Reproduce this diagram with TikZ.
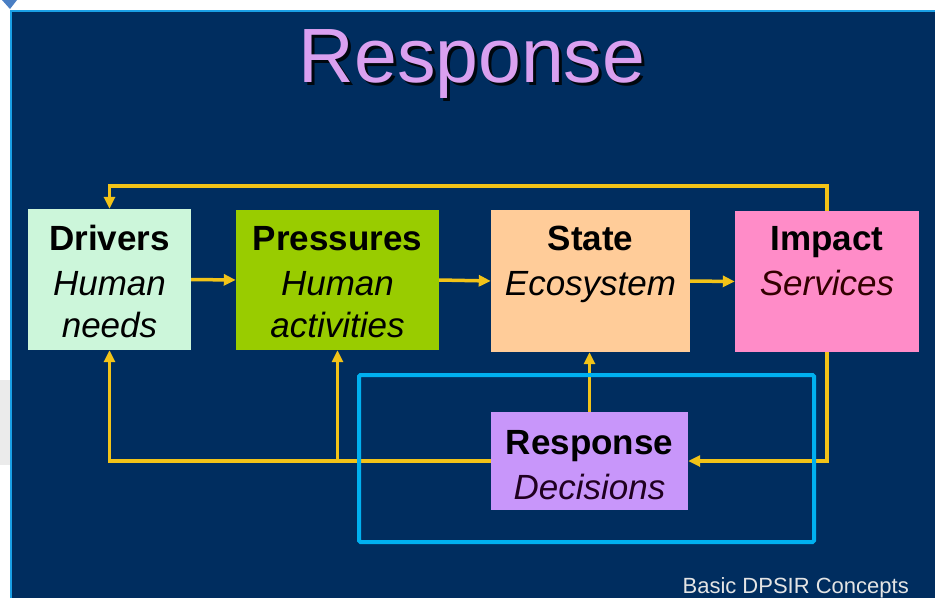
\documentclass[tikz,border=0pt]{standalone}
\usepackage{fontspec}
\setmainfont{Liberation Sans}
\usetikzlibrary{arrows.meta}
\definecolor{navy}{RGB}{0,45,95}
\definecolor{frameblue}{RGB}{26,160,230}
\definecolor{triblue}{RGB}{74,127,196}
\definecolor{mint}{RGB}{204,246,218}
\definecolor{lime}{RGB}{153,204,0}
\definecolor{peach}{RGB}{255,204,153}
\definecolor{pink}{RGB}{255,140,200}
\definecolor{lilac}{RGB}{200,150,250}
\definecolor{titlec}{RGB}{218,160,240}
\definecolor{yl}{RGB}{242,195,24}
\definecolor{hlblue}{RGB}{0,176,240}
\definecolor{foot}{RGB}{228,228,228}
\begin{document}
\begin{tikzpicture}[x=1pt,y=-1pt,
  box/.style={rectangle, draw=none, inner sep=0pt},
  hd/.style={font=\fontsize{35}{42}\selectfont\bfseries, anchor=base, text=black, inner sep=0pt},
  it/.style={font=\fontsize{35}{42}\selectfont\itshape, anchor=base, text=black, inner sep=0pt},
  arr/.style={draw=yl, line width=3.5pt, -{Triangle[length=12pt,width=11pt]}},
  hl/.style={draw=hlblue, line width=4pt, rounded corners=1.5pt, rectangle, inner sep=0pt}]
\useasboundingbox (0,0) rectangle (935,598);
\fill[white] (0,0) rectangle (935,598);
\fill[black!8] (0,380) rectangle (10,465);
\fill[navy] (12,12) rectangle (935,598);
\draw[frameblue, line width=2.5pt] (11,598) -- (11,11) -- (935,11);
\fill[triblue] (2,0) -- (17,0) -- (10,9) -- cycle;

% title
\node[font=\fontsize{77}{80}\selectfont, anchor=base, text=black!85!navy, inner sep=0pt] (ttlsh) at (475,85) {Response};
\node[font=\fontsize{77}{80}\selectfont, anchor=base, text=titlec, inner sep=0pt] (ttl) at (472,82) {Response};

% boxes
\node[box, fill=mint, minimum width=163pt, minimum height=141pt] (d) at (109.5,279.5) {};
\node[box, fill=lime, minimum width=203pt, minimum height=140pt] (p) at (337.5,280) {};
\node[box, fill=peach, minimum width=199pt, minimum height=142pt] (s) at (590.5,281) {};
\node[box, fill=pink, minimum width=184pt, minimum height=141pt] (i) at (827,281.5) {};
\node[box, fill=lilac, minimum width=197pt, minimum height=98pt] (r) at (589.5,461) {};

% box texts
\node[hd] (d1) at (109.5,250) {Drivers};
\node[it] (d2) at (109.5,295) {Human};
\node[it] (d3) at (109.5,337) {needs};
\node[hd] (p1) at (337.5,250) {Pressures};
\node[it] (p2) at (337.5,295) {Human};
\node[it] (p3) at (337.5,337) {activities};
\node[hd] (s1) at (590.5,250) {State};
\node[it] (s2) at (590.5,295) {Ecosystem};
\node[hd] (i1) at (827,250) {Impact};
\node[it, text=black!80!red] (i2) at (827,295) {Services};
\node[hd] (r1) at (589.5,454) {Response};
\node[it, text=black!75!violet] (r2) at (589.5,499) {Decisions};

% connectors
\coordinate (tl) at (109.5,186);
\draw[arr] (d.east) -- (p.west);
\draw[arr] (p.east) -- (s.west);
\draw[arr] (s.east) -- (i.west);
\draw[arr] (i.north) |- (tl) -- (d.north);
\draw[arr] (i.south) |- (r.east);
\draw[arr] (r.north) -- (r.north |- s.south);
\draw[arr] (r.west) -| (d.south);
\draw[arr] (p.south |- r.west) -- (p.south);

% highlight
\node[hl, minimum width=455pt, minimum height=167pt] (hlbox) at (586.5,458.5) {};

% footer
\node[font=\fontsize{22}{24}\selectfont, anchor=base east, text=foot, inner sep=0pt] (ft) at (909,593) {Basic DPSIR Concepts};
\end{tikzpicture}
\end{document}
